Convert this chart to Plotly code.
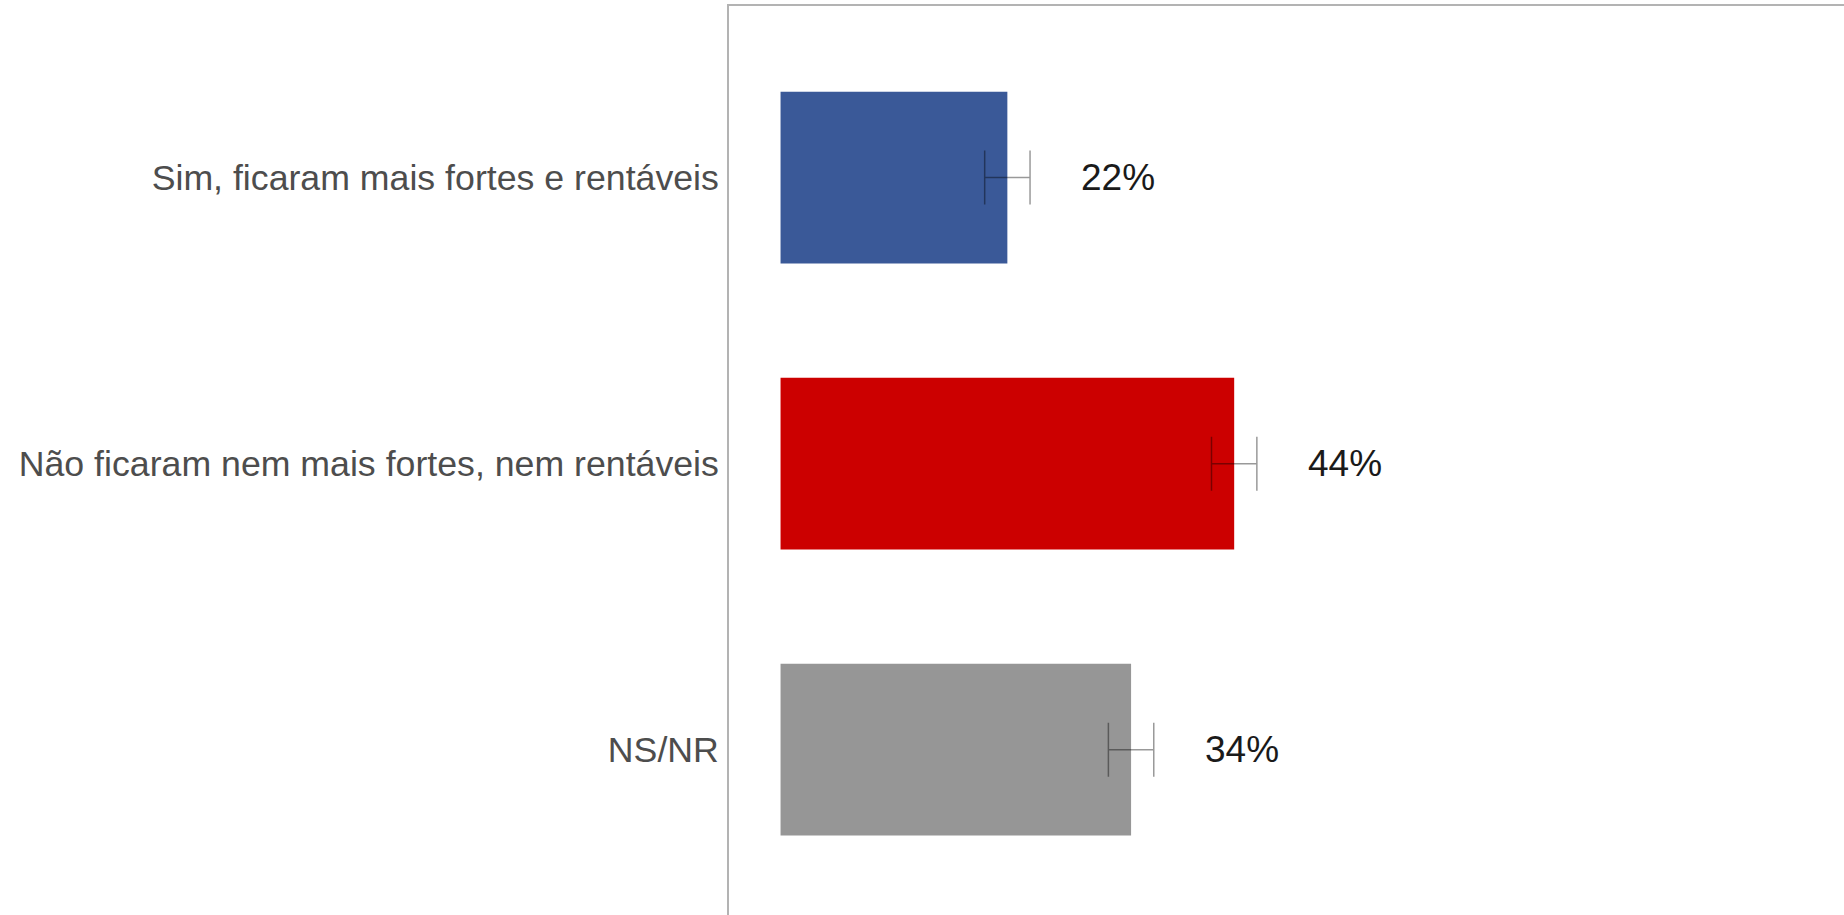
import plotly.graph_objects as go

categories = [
    "Sim, ficaram mais fortes e rentáveis",
    "Não ficaram nem mais fortes, nem rentáveis",
    "NS/NR",
]
values = [22, 44, 34]
errors = [2.2, 2.2, 2.2]
labels = ["22%", "44%", "34%"]
colors = ["#3a5998", "#cc0000", "#969696"]

fig = go.Figure()

fig.add_trace(go.Bar(
    x=values,
    y=categories,
    orientation="h",
    marker_color=colors,
    marker_line_width=0,
    error_x=dict(
        type="data",
        array=errors,
        color="rgba(0,0,0,0.4)",
        thickness=1.5,
        width=27,
    ),
    hoverinfo="skip",
))

# percent labels to the right of each bar
for cat, val, lab in zip(categories, values, labels):
    fig.add_annotation(
        x=val, y=cat, text=lab, showarrow=False,
        xanchor="center", xshift=111,
        font=dict(size=37, color="#1a1a1a", family="Liberation Sans, Arial"),
    )

fig.update_layout(
    width=1844,
    height=915,
    margin=dict(l=729, r=0, t=6, b=0),
    plot_bgcolor="white",
    paper_bgcolor="white",
    showlegend=False,
    bargap=0.4,
    font=dict(family="Liberation Sans, Arial", color="#4d4d4d"),
)

fig.update_xaxes(
    range=[-5, 103.15],
    side="top",
    showline=True, linecolor="#b3b3b3", linewidth=2,
    showgrid=False, zeroline=False,
    showticklabels=False, ticks="",
)

fig.update_yaxes(
    range=[2.578, -0.6],
    showline=True, linecolor="#b3b3b3", linewidth=2,
    showgrid=False, zeroline=False,
    ticks="", ticklabelstandoff=1,
    tickfont=dict(size=35.7, color="#4d4d4d"),
)

# drop the default page margin so the figure sits at the top-left corner
fig.write_html(
    "out.html",
    config={"displayModeBar": False},
    post_script="document.body.style.margin='0';",
)
